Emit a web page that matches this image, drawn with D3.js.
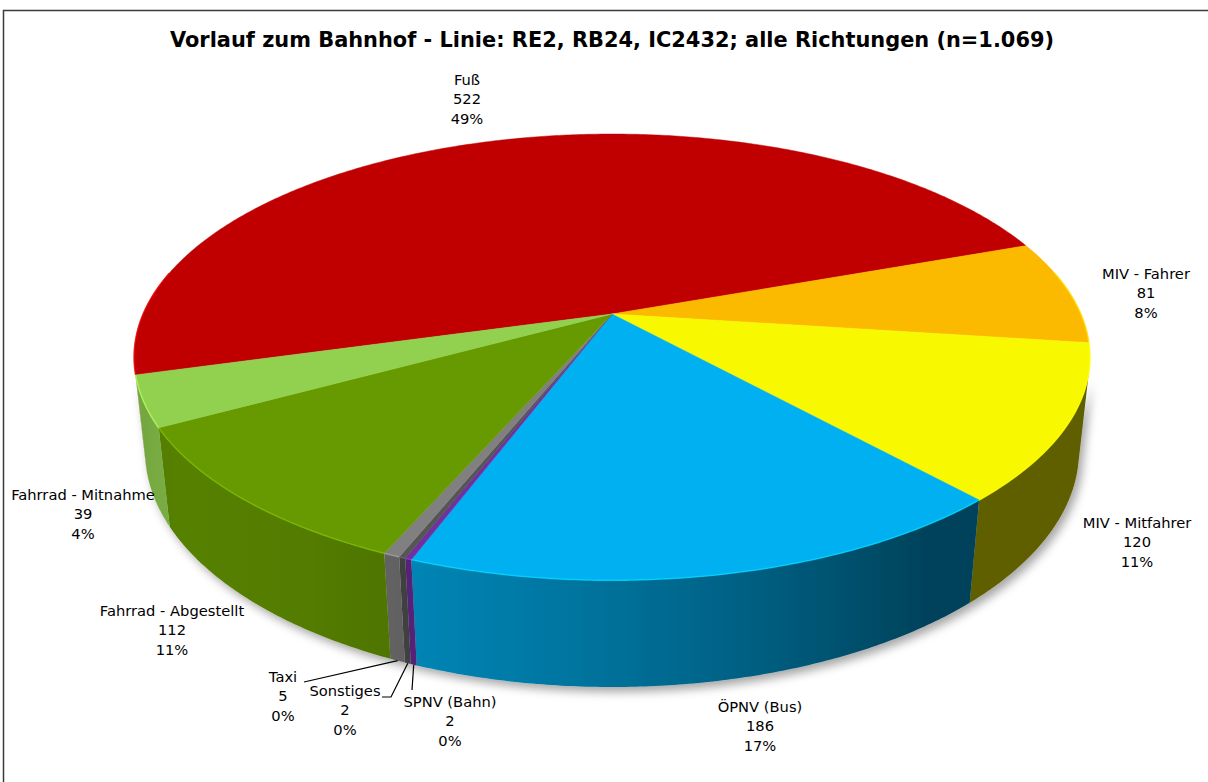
<!DOCTYPE html>
<html>
<head>
<meta charset="utf-8">
<script src="https://cdn.jsdelivr.net/npm/d3@7"></script>
<style>
  body { margin: 0; background: #fff; }
  text { font-family: "DejaVu Sans", Verdana, sans-serif; }
</style>
</head>
<body>
<svg id="chart" width="1208" height="782"></svg>
<script>
// Vorlauf zum Bahnhof - Verkehrsmittel, Anzahl Fahrgaeste
var categories = ["Fuß", "MIV - Fahrer", "MIV - Mitfahrer", "ÖPNV (Bus)", "SPNV (Bahn)",
                  "Sonstiges", "Taxi", "Fahrrad - Abgestellt", "Fahrrad - Mitnahme"];
var values = [522, 81, 120, 186, 2, 2, 5, 112, 39];
var percentLabels = ["49%", "8%", "11%", "17%", "0%", "0%", "0%", "11%", "4%"];
var colors = ["#c00000", "#fbba00", "#f8f800", "#00b0f0", "#7030a0",
              "#555555", "#808080", "#679a00", "#92d050"];

// label blocks (centre of middle line) and leader lines, hand placed like excel did
var labelAt = [[467, 99], [1146, 293], [1137, 542], [760, 726], [450, 721],
               [345, 710], [283, 696], [172, 630], [83, 514]];
var leaderFrom = {4: [[412, 690]], 5: [[382, 697], [391, 697]], 6: [[304, 682]]};

var cfg = {
  cx: 612, cy: 314,      // projected centre of the top face
  F: 2155, D: 4.596,     // focal length / camera distance (radius = 1)
  tilt: 27.26 * Math.PI / 180,
  h: 0.2268,             // thickness
  start: 254.4 * Math.PI / 180,
  lineH: 19.5
};
var sinT = Math.sin(cfg.tilt), cosT = Math.cos(cfg.tilt);

// project a point of the disc (angle clockwise from the back, radius, height)
function proj(a, r, Y) {
  var X = r * Math.sin(a), Z = -r * Math.cos(a);
  var d = cfg.D - (Y * sinT + Z * cosT);
  return [cfg.cx + cfg.F * X / d, cfg.cy - cfg.F * (Y * cosT - Z * sinT) / d];
}

function shade(col, a) {
  var lightDir = 235 * Math.PI / 180;
  var k = 0.38 + 0.45 * Math.max(0, Math.cos(a - lightDir));
  var c = d3.rgb(col);
  return d3.rgb(c.r * k, c.g * k, c.b * k);
}

// the part of the outer wall that faces the camera
var visLim = Math.acos(-1 / (cfg.D * cosT));
var visFrom = visLim, visTo = 2 * Math.PI - visLim;

var svg = d3.select("#chart");

var defs = svg.append("defs");
var f = defs.append("filter").attr("id", "shadow")
  .attr("x", "-10%").attr("y", "-10%").attr("width", "120%").attr("height", "130%");
f.append("feDropShadow").attr("dx", 4).attr("dy", 5).attr("stdDeviation", 5)
  .attr("flood-color", "#000").attr("flood-opacity", 0.35);

// frame
svg.append("path")
  .attr("d", "M3.5,782 L3.5,10.5 L1208,10.5")
  .attr("fill", "none").attr("stroke", "#3a3a3a").attr("stroke-width", 1.5);

svg.append("text")
  .attr("x", 612).attr("y", 47)
  .attr("text-anchor", "middle")
  .attr("font-size", 20.9).attr("font-weight", "bold")
  .text("Vorlauf zum Bahnhof - Linie: RE2, RB24, IC2432; alle Richtungen (n=1.069)");

var pie = d3.pie()
  .sort(null)
  .startAngle(cfg.start)
  .endAngle(cfg.start + 2 * Math.PI)
  .value(function(d) { return d; });

var arcs = pie(values);
var line = d3.line();
var step = Math.PI / 360;

function norm(a) {
  var t = a % (2 * Math.PI);
  return t < 0 ? t + 2 * Math.PI : t;
}

// side walls: one path per slice, shaded with a horizontal gradient
var walls = [];
arcs.forEach(function(d, i) {
  var a0 = norm(d.startAngle), a1 = a0 + (d.endAngle - d.startAngle);
  var s = Math.max(a0, visFrom), e = Math.min(a1, visTo);
  if (e <= s) return;
  var n = Math.max(2, Math.ceil((e - s) / step));
  var top = [], bot = [], stops = [];
  for (var k = 0; k <= n; k++) {
    var a = s + (e - s) * k / n;
    top.push(proj(a, 1, 0));
    bot.push(proj(a, 1, -cfg.h));
    stops.push({x: bot[k][0], c: shade(colors[i], a)});
  }
  walls.push({i: i, pts: top.concat(bot.reverse()), stops: stops});
});

walls.forEach(function(w) {
  var xs = w.stops.map(function(p) { return p.x; });
  var x0 = d3.min(xs), x1 = d3.max(xs);
  var g = defs.append("linearGradient")
    .attr("id", "wall" + w.i)
    .attr("gradientUnits", "userSpaceOnUse")
    .attr("x1", x0).attr("x2", x1 + 0.01).attr("y1", 0).attr("y2", 0);
  w.stops.slice().sort(function(p, q) { return p.x - q.x; })
    .filter(function(p, k) { return k % 4 === 0; })
    .forEach(function(p) {
      g.append("stop")
        .attr("offset", (p.x - x0) / (x1 - x0 + 0.01))
        .attr("stop-color", p.c);
    });
});

svg.append("g")
  .attr("filter", "url(#shadow)")
  .selectAll("path")
  .data(walls)
  .enter().append("path")
  .attr("d", function(w) { return line(w.pts) + "Z"; })
  .attr("fill", function(w) { return "url(#wall" + w.i + ")"; });

// top faces
svg.append("g")
  .selectAll("path")
  .data(arcs)
  .enter().append("path")
  .attr("d", function(d) {
    var pts = [proj(0, 0, 0)];
    var n = Math.max(2, Math.ceil((d.endAngle - d.startAngle) / step));
    for (var k = 0; k <= n; k++) {
      pts.push(proj(d.startAngle + (d.endAngle - d.startAngle) * k / n, 1, 0));
    }
    return line(pts) + "Z";
  })
  .attr("fill", function(d, i) { return colors[i]; })
  .attr("stroke", function(d, i) { return colors[i]; })
  .attr("stroke-width", 0.5);

// light rim along the front edge
svg.append("g")
  .selectAll("path")
  .data(arcs)
  .enter().append("path")
  .attr("d", function(d) {
    var pts = [];
    var n = Math.max(2, Math.ceil((d.endAngle - d.startAngle) / step));
    for (var k = 0; k <= n; k++) {
      var a = d.startAngle + (d.endAngle - d.startAngle) * k / n;
      if (-Math.cos(a) > -0.2) pts.push(proj(a, 1, 0));
    }
    return pts.length > 1 ? line(pts) : null;
  })
  .attr("fill", "none")
  .attr("stroke", function(d, i) { return d3.rgb(colors[i]).brighter(0.6); })
  .attr("stroke-opacity", 0.7)
  .attr("stroke-width", 1.5);

// leader lines for the small slices
arcs.forEach(function(d, i) {
  if (!leaderFrom[i]) return;
  var mid = (d.startAngle + d.endAngle) / 2;
  var pts = leaderFrom[i].concat([proj(mid, 1, -cfg.h)]);
  svg.append("path")
    .attr("d", line(pts))
    .attr("fill", "none")
    .attr("stroke", "#000")
    .attr("stroke-width", 1.2);
});

// data labels
var label = svg.append("g").selectAll("text")
  .data(arcs)
  .enter().append("text")
  .attr("text-anchor", "middle")
  .attr("font-size", 14.7)
  .attr("fill", "#000")
  .attr("transform", function(d, i) {
    return "translate(" + labelAt[i][0] + "," + labelAt[i][1] + ")";
  });

label.each(function(d, i) {
  var t = d3.select(this);
  [categories[i], values[i], percentLabels[i]].forEach(function(s, k) {
    t.append("tspan")
      .attr("x", 0)
      .attr("y", (k - 1) * cfg.lineH)
      .attr("dy", "0.35em")
      .text(s);
  });
});
</script>
</body>
</html>
